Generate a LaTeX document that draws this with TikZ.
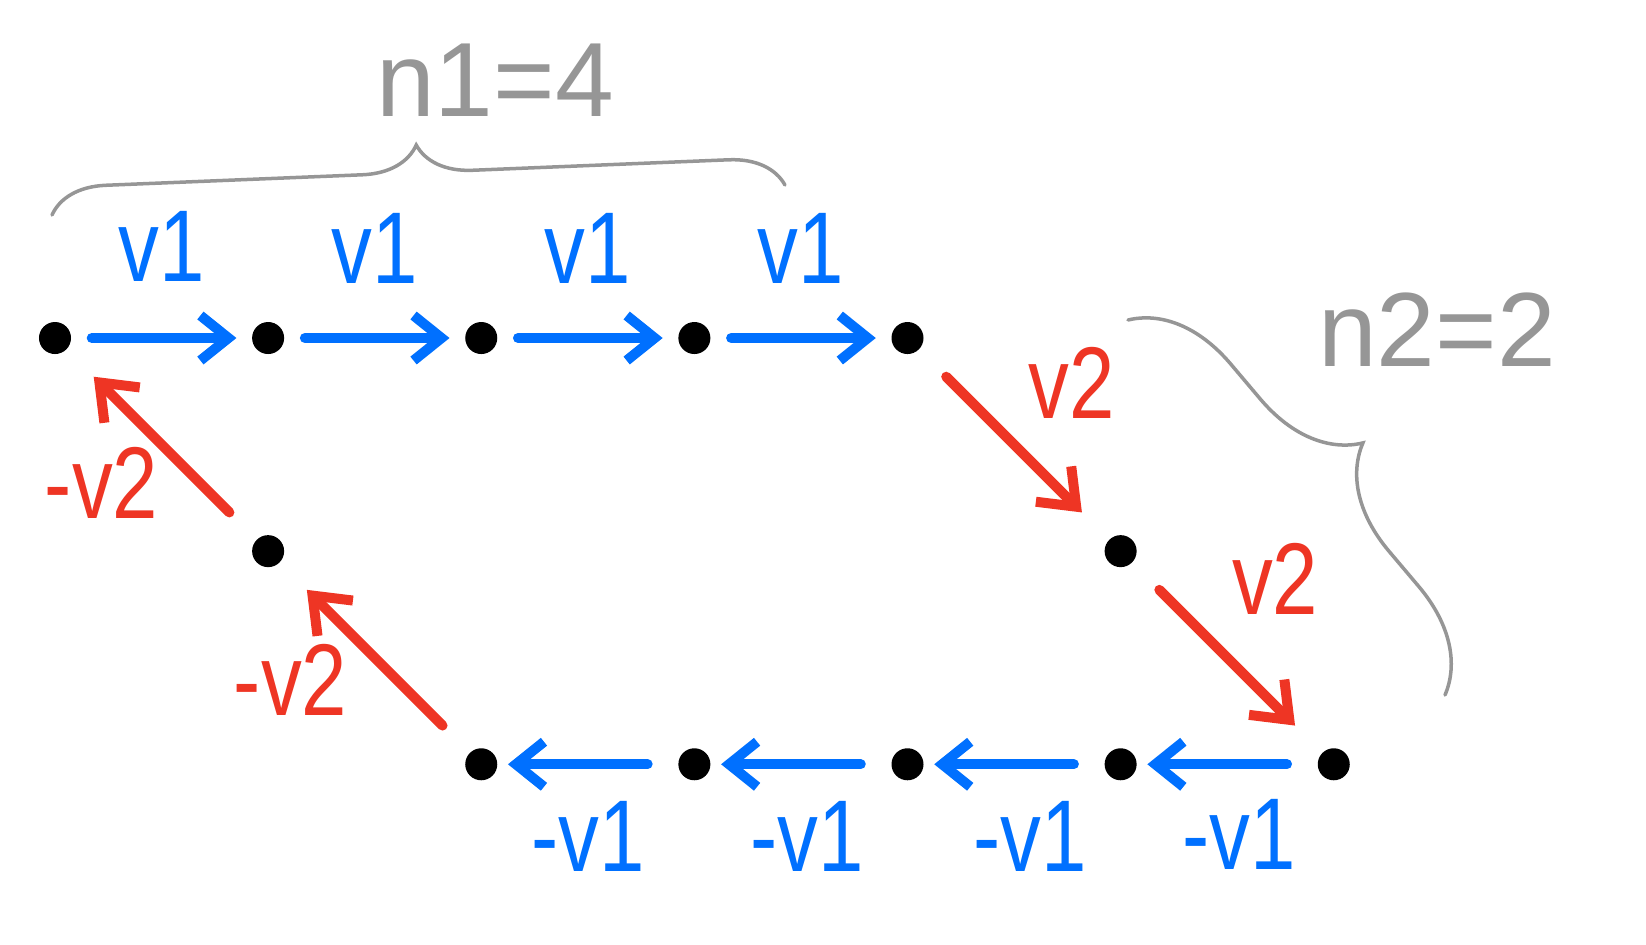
\documentclass[tikz,border=0pt]{standalone}
\usepackage{fontspec}
\setmainfont{Liberation Sans}
\usepackage{xcolor}
\usetikzlibrary{arrows.meta, positioning, decorations.pathreplacing}
\definecolor{penblue}{RGB}{0,112,255}
\definecolor{penred}{RGB}{238,53,36}
\definecolor{pengray}{RGB}{150,150,150}
\tikzstyle{blackdot} = [circle, fill=black, inner sep=0, minimum size=0.32cm]
\tikzstyle{lineb} = [draw=penblue, line width=0.1cm, line cap=round, line join=round, -{Straight Barb[length=0.28cm, width=0.45cm]}, shorten <=0.2cm, shorten >=0.15cm]
\tikzstyle{liner} = [draw=penred, line width=0.1cm, line cap=round, line join=round, -{Straight Barb[length=0.32cm, width=0.5cm]}, shorten <=0.38cm, shorten >=0.38cm]
\tikzstyle{braceg} = [draw=pengray, line width=0.035cm, line cap=round, decorate]
\tikzstyle{labb} = [text=penblue, inner sep=0, xscale=0.8, font=\fontsize{29}{31}\selectfont]
\tikzstyle{labr} = [text=penred, inner sep=0, xscale=0.8, font=\fontsize{29}{31}\selectfont]
\tikzstyle{labg} = [text=pengray, inner sep=0, font=\fontsize{30}{32}\selectfont]

\begin{document}
\begin{tikzpicture}[x=0.01cm, y=-0.01cm, node distance=2.13cm]
\useasboundingbox (0,0) rectangle (1646,944);

\node [blackdot] (t0) at (55,338) {};
\node [blackdot, right of=t0] (t1) {};
\node [blackdot, right of=t1] (t2) {};
\node [blackdot, right of=t2] (t3) {};
\node [blackdot, right of=t3] (t4) {};
\node [blackdot, below of=t4, xshift=2.13cm] (m1) {};
\node [blackdot, below of=m1, xshift=2.13cm] (b4) {};
\node [blackdot, left of=b4] (b3) {};
\node [blackdot, left of=b3] (b2) {};
\node [blackdot, left of=b2] (b1) {};
\node [blackdot, left of=b1] (b0) {};
\node [blackdot, above of=b0, xshift=-2.13cm] (m0) {};

\path [lineb] (t0) -- node[labb, yshift=0.92cm] (v1a) {v1} (t1);
\path [lineb] (t1) -- node[labb, yshift=0.9cm] (v1b) {v1} (t2);
\path [lineb] (t2) -- node[labb, yshift=0.9cm] (v1c) {v1} (t3);
\path [lineb] (t3) -- node[labb, yshift=0.9cm] (v1d) {v1} (t4);

\path [liner] (t4) -- node[labr, xshift=0.72cm, yshift=0.62cm] (v2a) {v2} (m1);
\path [liner] (m1) -- node[labr, xshift=0.6cm, yshift=0.79cm] (v2b) {v2} (b4);

\path [lineb, shorten <=0.3cm, shorten >=0.1cm] (b4) -- node[labb, xshift=0.15cm, yshift=-0.7cm] (w1a) {-v1} (b3);
\path [lineb, shorten <=0.3cm, shorten >=0.1cm] (b3) -- node[labb, xshift=0.2cm, yshift=-0.72cm] (w1b) {-v1} (b2);
\path [lineb, shorten <=0.3cm, shorten >=0.1cm] (b2) -- node[labb, xshift=0.08cm, yshift=-0.72cm] (w1c) {-v1} (b1);
\path [lineb, shorten <=0.3cm, shorten >=0.1cm] (b1) -- node[labb, yshift=-0.72cm] (w1d) {-v1} (b0);

\path [liner] (b0) -- node[labr, xshift=-1.05cm, yshift=-0.22cm] (w2a) {-v2} (m0);
\path [liner] (m0) -- node[labr, xshift=-0.75cm, yshift=-0.38cm] (w2b) {-v2} (t0);

% braces
\coordinate (ba) at (52,215);
\coordinate (bb) at (785,185);
\coordinate (bc) at (1128,320);
\coordinate (bd) at (1445,695);
\draw [braceg, decoration={brace, amplitude=0.55cm}] (ba) -- (bb);
\draw [braceg, decoration={brace, amplitude=1cm}] (bc) -- (bd);
\node [labg] (n1) at (495,80) {n1=4};
\node [labg] (n2) at (1437,330) {n2=2};

\end{tikzpicture}
\end{document}
